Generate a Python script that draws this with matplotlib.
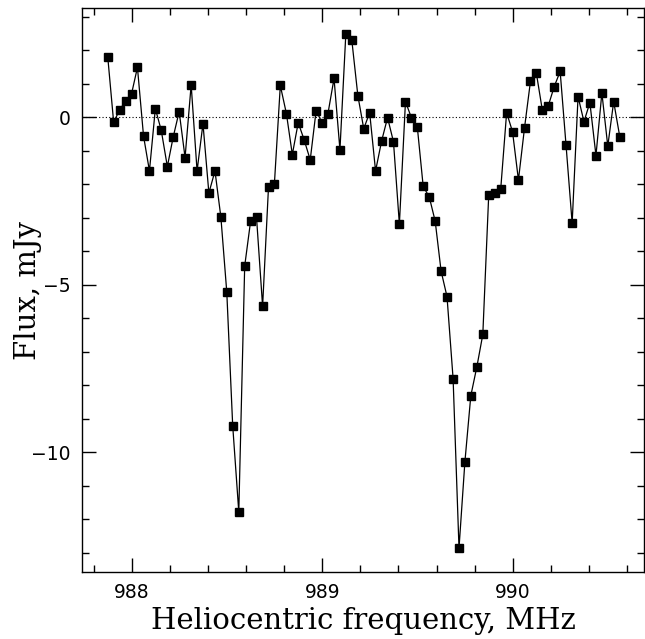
import numpy as np
import matplotlib
matplotlib.use("Agg")
import matplotlib.pyplot as plt
from matplotlib.ticker import MultipleLocator

# channel frequencies (MHz) and measured flux (mJy)
freq = [987.874, 987.905, 987.937, 987.968, 987.999, 988.030, 988.062, 988.093,
        988.124, 988.155, 988.187, 988.218, 988.249, 988.280, 988.312, 988.343,
        988.374, 988.405, 988.437, 988.468, 988.499, 988.530, 988.562, 988.593,
        988.624, 988.655, 988.687, 988.718, 988.749, 988.780, 988.812, 988.843,
        988.874, 988.905, 988.937, 988.968, 988.999, 989.030, 989.062, 989.093,
        989.124, 989.155, 989.187, 989.218, 989.249, 989.280, 989.312, 989.343,
        989.374, 989.405, 989.437, 989.468, 989.499, 989.530, 989.562, 989.593,
        989.624, 989.655, 989.687, 989.718, 989.749, 989.780, 989.812, 989.843,
        989.874, 989.905, 989.937, 989.968, 989.999, 990.030, 990.062, 990.093,
        990.124, 990.155, 990.187, 990.218, 990.249, 990.280, 990.312, 990.343,
        990.374, 990.405, 990.437, 990.468, 990.499, 990.530, 990.562]

flux = [1.81, -0.14, 0.22, 0.50, 0.70, 1.49, -0.56, -1.60, 0.26, -0.39,
        -1.47, -0.58, 0.17, -1.20, 0.97, -1.60, -0.19, -2.26, -1.60, -2.98,
        -5.22, -9.20, -11.78, -4.44, -3.10, -2.98, -5.64, -2.08, -1.98, 0.95,
        0.11, -1.11, -0.16, -0.67, -1.27, 0.20, -0.16, 0.11, 1.16, -0.97,
        2.50, 2.32, 0.65, -0.34, 0.14, -1.60, -0.70, -0.01, -0.73, -3.19,
        0.47, -0.01, -0.28, -2.06, -2.38, -3.10, -4.59, -5.35, -7.80, -12.86,
        -10.28, -8.31, -7.44, -6.48, -2.32, -2.25, -2.14, 0.14, -0.43, -1.87,
        -0.31, 1.07, 1.32, 0.23, 0.35, 0.92, 1.37, -0.84, -3.16, 0.62,
        -0.13, 0.44, -1.14, 0.73, -0.86, 0.47, -0.58]

xticks = [988, 989, 990]
yticks = [0, -5, -10]

fig = plt.figure(figsize=(6.45, 6.39), dpi=100)
ax = fig.add_axes([0.1267, 0.1044, 0.8723, 0.8826])

ax.axhline(0, color="black", lw=0.8, ls=(0, (1, 2)))
ax.plot(freq, flux, color="black", lw=0.9, marker="s", ms=5.5,
        mec="black", mfc="black")

ax.set_xlim(987.7375, 990.691)
ax.set_ylim(-13.58, 3.254)
ax.set_xticks(xticks)
ax.set_yticks(yticks)
ax.set_yticklabels(["0", "\u22125", "\u221210"])
ax.xaxis.set_minor_locator(MultipleLocator(0.2))
ax.yaxis.set_minor_locator(MultipleLocator(1))
ax.tick_params(which="both", direction="in", top=True, right=True,
               width=1, colors="black")
ax.tick_params(which="major", length=10, labelsize=13.5, pad=8)
ax.tick_params(which="minor", length=5)
for lab in ax.get_xticklabels() + ax.get_yticklabels():
    lab.set_family("DejaVu Sans")
for sp in ax.spines.values():
    sp.set_linewidth(1)

ax.set_xlabel("Heliocentric frequency, MHz", family="DejaVu Serif",
              fontsize=21, va="center")
ax.set_ylabel("Flux, mJy", family="DejaVu Serif", fontsize=21, va="center")
ax.xaxis.set_label_coords(0.5, -0.086)
ax.yaxis.set_label_coords(-0.0955, 0.5)

fig.savefig("out.png", dpi=100)
